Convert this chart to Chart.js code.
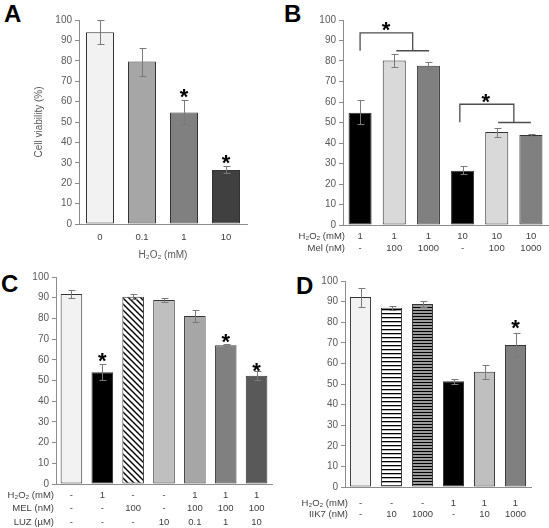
<!DOCTYPE html>
<html><head><meta charset="utf-8">
<script src="https://cdn.jsdelivr.net/npm/chart.js"></script>
<style>
html,body{margin:0;padding:0;background:#fff;overflow:hidden;width:549px;height:528px;position:relative}
canvas{position:absolute}
.lbl{position:absolute;font:bold 24px "Liberation Sans",Arial,sans-serif;color:#000;line-height:24px}
</style></head><body>
<div class="lbl" style="left:4px;top:2px">A</div>
<div class="lbl" style="left:284px;top:2px">B</div>
<div class="lbl" style="left:1px;top:272px">C</div>
<div class="lbl" style="left:296px;top:274px">D</div>
<canvas id="cA" width="275" height="265" style="left:0;top:0;width:275px;height:265px"></canvas>
<canvas id="cB" width="274" height="265" style="left:275px;top:0;width:274px;height:265px"></canvas>
<canvas id="cC" width="275" height="263" style="left:0;top:265px;width:275px;height:263px"></canvas>
<canvas id="cD" width="274" height="263" style="left:275px;top:265px;width:274px;height:263px"></canvas>
<script>
// ---------- shared ----------
const yTickValues = [0, 10, 20, 30, 40, 50, 60, 70, 80, 90, 100];

// ---------- Panel A ----------
const aCategories = ['0', '0.1', '1', '10'];
const aValues  = [94.0, 79.6, 54.7, 26.5];
const aErrHigh = [100.0, 86.4, 60.9, 28.6];
const aErrLow  = [88.1, 72.5, 48.9, 24.8];
const aColors  = ['#f2f2f2', '#a6a6a6', '#808080', '#404040'];
const aStars   = [[2, 64.8], [3, 32.3]];

// ---------- Panel B ----------
const bH2O2    = ['1', '1', '1', '10', '10', '10'];
const bMel     = ['-', '100', '1000', '-', '100', '1000'];
const bValues  = [54.8, 80.2, 77.7, 26.5, 45.4, 43.9];
const bErrHigh = [60.8, 83.3, 79.7, 28.6, 47.5, 44.2];
const bErrLow  = [49.1, 76.9, 76.1, 24.9, 43.1, 43.6];
const bColors  = ['#000000', '#d9d9d9', '#808080', '#000000', '#d9d9d9', '#808080'];
const bStars   = [[0.76, 97.6], [3.68, 62.4]];
const bBrackets = [
  [[0, 85], [0, 93.7], [1.54, 93.7], [1.54, 85]],
  [[1.06, 85], [2.02, 85]],
  [[2.92, 50.1], [2.92, 58.9], [4.5, 58.9], [4.5, 49.9]],
  [[4.04, 50], [5.0, 50]]
];

// ---------- Panel C ----------
const cH2O2    = ['-', '1', '-', '-', '1', '1', '1'];
const cMel     = ['-', '-', '100', '-', '100', '100', '100'];
const cLuz     = ['-', '-', '-', '10', '0.1', '1', '10'];
const cValues  = [91.8, 54.0, 90.5, 88.9, 81.2, 67.0, 52.3];
const cErrHigh = [93.7, 57.8, 91.6, 89.7, 83.9, 67.4, 54.4];
const cErrLow  = [89.7, 50.4, 89.4, 88.1, 78.1, 66.6, 50.4];
const cColors  = ['#f2f2f2', '#000000', 'diag', '#bfbfbf', '#a6a6a6', '#808080', '#595959'];
const cStars   = [[1, 61.8], [5, 71.0], [6, 57.0]];

// ---------- Panel D ----------
const dH2O2    = ['-', '-', '-', '1', '1', '1'];
const dIIK7    = ['-', '10', '1000', '-', '10', '1000'];
const dValues  = [92.2, 87.0, 88.8, 51.3, 56.0, 68.9];
const dErrHigh = [96.7, 88.0, 90.1, 52.6, 59.1, 74.9];
const dErrLow  = [87.5, 86.1, 87.5, 50.0, 52.6, 63.7];
const dColors  = ['#f2f2f2', 'hstripe', 'hstripeDense', '#000000', '#bfbfbf', '#808080'];
const dStars   = [[5, 79.5]];

// ---------- helpers ----------
const FONT = '"Liberation Sans", Arial, sans-serif';
Chart.defaults.font.family = FONT;

function makePattern(kind) {
  const c = document.createElement('canvas');
  const g = c.getContext('2d');
  if (kind === 'diag') {
    c.width = 6; c.height = 6;
    g.fillStyle = '#fff'; g.fillRect(0, 0, 6, 6);
    g.strokeStyle = '#000'; g.lineWidth = 1.4;
    g.beginPath();
    g.moveTo(-1, -1); g.lineTo(7, 7);
    g.moveTo(-1, 5); g.lineTo(1, 7);
    g.moveTo(5, -1); g.lineTo(7, 1);
    g.stroke();
  } else if (kind === 'hstripe') {
    c.width = 4; c.height = 4;
    g.fillStyle = '#fff'; g.fillRect(0, 0, 4, 4);
    g.fillStyle = '#000'; g.fillRect(0, 0, 4, 1.3);
  } else {
    c.width = 3; c.height = 3;
    g.fillStyle = '#9a9a9a'; g.fillRect(0, 0, 3, 3);
    g.fillStyle = '#000'; g.fillRect(0, 0, 3, 1);
  }
  return c.getContext('2d').createPattern(c, 'repeat');
}
function fills(list) {
  return list.map(f => f.startsWith('#') ? f : makePattern(f));
}

const annot = {
  id: 'annot',
  afterDatasetsDraw(chart, args, o) {
    const ctx = chart.ctx, xs = chart.scales.x, ys = chart.scales.y;
    const meta = chart.getDatasetMeta(0);
    ctx.save();
    // error bars
    ctx.strokeStyle = '#7a7a7a'; ctx.lineWidth = 1;
    o.errLow.forEach((lo, i) => {
      const x = Math.round(meta.data[i].x) + 0.5;
      const yl = Math.round(ys.getPixelForValue(lo)) + 0.5;
      const yh = Math.round(ys.getPixelForValue(o.errHigh[i])) + 0.5;
      ctx.beginPath();
      ctx.moveTo(x, yl); ctx.lineTo(x, yh);
      ctx.moveTo(x - 3, yl); ctx.lineTo(x + 4, yl);
      ctx.moveTo(x - 3, yh); ctx.lineTo(x + 4, yh);
      ctx.stroke();
    });
    // brackets
    ctx.strokeStyle = '#4d4d4d'; ctx.lineWidth = 1.3;
    (o.brackets || []).forEach(line => {
      ctx.beginPath();
      line.forEach((p, k) => {
        const px = xs.getPixelForValue(p[0]), py = ys.getPixelForValue(p[1]);
        if (k === 0) ctx.moveTo(px, py); else ctx.lineTo(px, py);
      });
      ctx.stroke();
    });
    // stars
    ctx.fillStyle = '#000';
    ctx.font = 'bold 22px ' + FONT;
    ctx.textAlign = 'center'; ctx.textBaseline = 'alphabetic';
    (o.stars || []).forEach(s => {
      ctx.fillText('*', xs.getPixelForValue(s[0]), ys.getPixelForValue(s[1]) + 12);
    });
    // row headers
    if (o.headers) {
      ctx.font = o.fontSize + 'px ' + FONT;
      ctx.fillStyle = '#404040';
      ctx.textAlign = 'right'; ctx.textBaseline = 'middle';
      o.headers.forEach((h, i) => {
        ctx.fillText(h, o.headerX, xs.top + o.pad + o.lh / 2 + i * o.lh);
      });
    }
    ctx.restore();
  }
};

function zipLabels(rows) {
  return rows[0].map((_, i) => rows.length === 1 ? rows[0][i] : rows.map(r => r[i]));
}

function makePanel(id, g, d) {
  const lhPx = g.lh;
  new Chart(document.getElementById(id), {
    type: 'bar',
    data: {
      labels: zipLabels(d.rows),
      datasets: [{
        data: d.values,
        backgroundColor: fills(d.colors),
        borderColor: '#333333',
        borderWidth: 1,
        borderSkipped: false,
        barPercentage: g.barPct,
        categoryPercentage: 1
      }]
    },
    options: {
      responsive: false,
      animation: false,
      events: [],
      layout: { padding: { left: 0, top: g.top, right: g.w - g.right, bottom: 0 } },
      plugins: {
        legend: { display: false },
        tooltip: { enabled: false },
        annot: {
          errLow: d.errLow, errHigh: d.errHigh, stars: d.stars, brackets: d.brackets,
          headers: d.headers, headerX: g.headerX, pad: g.pad, lh: lhPx, fontSize: 9.5
        }
      },
      scales: {
        x: {
          offset: true,
          grid: { display: false, drawTicks: false },
          border: { display: true, color: '#8c8c8c', width: 1 },
          ticks: {
            color: '#404040', padding: g.pad, autoSkip: false, maxRotation: 0,
            font: { size: 9.5, lineHeight: lhPx / 9.5 }
          },
          title: d.xTitle ? {
            display: true, text: d.xTitle, color: '#595959',
            font: { size: 10, lineHeight: 1.2 }, padding: { top: 0, bottom: 4 }
          } : { display: false },
          afterFit: s => { s.height = g.h - g.bottom; }
        },
        y: {
          min: 0, max: 100,
          afterBuildTicks: s => { s.ticks = yTickValues.map(v => ({ value: v })); },
          grid: { drawOnChartArea: false, drawTicks: true, tickLength: 4, color: '#8c8c8c' },
          border: { display: true, color: '#8c8c8c', width: 1 },
          ticks: { color: '#595959', padding: 3, font: { size: 10 } },
          title: d.yTitle ? {
            display: true, text: d.yTitle, color: '#595959',
            font: { size: 10, lineHeight: 1.2 }, padding: { top: 33, bottom: 0 }
          } : { display: false },
          afterFit: s => { s.width = g.left; }
        }
      }
    },
    plugins: [annot]
  });
}

makePanel('cA',
  { w: 275, h: 265, left: 79, right: 247, top: 20, bottom: 224, barPct: 0.667, pad: 7.5, lh: 11 },
  { rows: [aCategories], values: aValues, errLow: aErrLow, errHigh: aErrHigh, colors: aColors,
    stars: aStars, xTitle: 'H\u2082O\u2082 (mM)', yTitle: 'Cell viability (%)' });

makePanel('cB',
  { w: 274, h: 265, left: 68, right: 273, top: 20, bottom: 225, barPct: 0.675, pad: 6, lh: 11.6, headerX: 70 },
  { rows: [bH2O2, bMel], values: bValues, errLow: bErrLow, errHigh: bErrHigh, colors: bColors,
    stars: bStars, brackets: bBrackets, headers: ['H\u2082O\u2082 (mM)', 'Mel (nM)'] });

makePanel('cC',
  { w: 275, h: 263, left: 56, right: 272, top: 12, bottom: 219, barPct: 0.7, pad: 4, lh: 13.8, headerX: 54 },
  { rows: [cH2O2, cMel, cLuz], values: cValues, errLow: cErrLow, errHigh: cErrHigh, colors: cColors,
    stars: cStars, headers: ['H\u2082O\u2082 (mM)', 'MEL (nM)', 'LUZ (\u00b5M)'] });

makePanel('cD',
  { w: 274, h: 263, left: 70, right: 256, top: 16, bottom: 222, barPct: 0.68, pad: 10.8, lh: 11, headerX: 73 },
  { rows: [dH2O2, dIIK7], values: dValues, errLow: dErrLow, errHigh: dErrHigh, colors: dColors,
    stars: dStars, headers: ['H\u2082O\u2082 (mM)', 'IIK7 (nM)'] });
</script>
</body></html>
